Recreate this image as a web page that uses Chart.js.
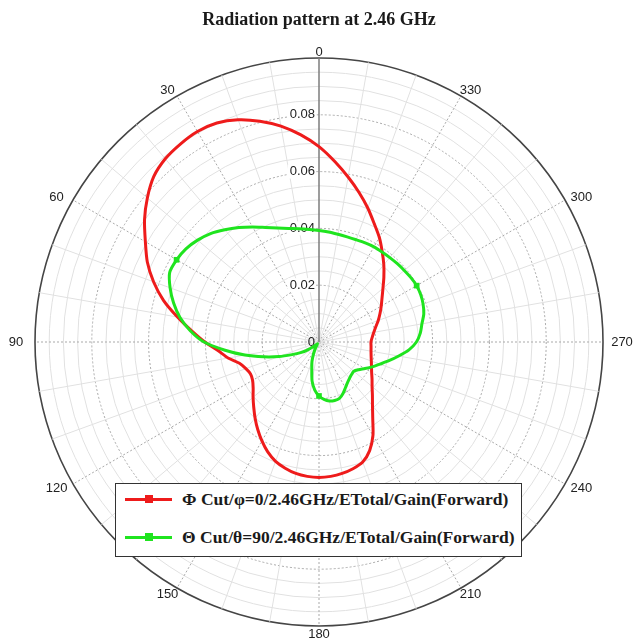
<!DOCTYPE html>
<html>
<head>
<meta charset="utf-8">
<script src="https://cdn.jsdelivr.net/npm/chart.js@4.4.1/dist/chart.umd.min.js"></script>
<style>
  html, body { margin: 0; padding: 0; background: #ffffff; }
  #wrap { position: relative; width: 639px; height: 639px; overflow: hidden; }
  #chart { position: absolute; left: 0; top: 0; }
  #legend {
    position: absolute; left: 115px; top: 483px; width: 405px; height: 72px;
    border: 1.5px solid #333; background: #ffffff;
    font-family: "Liberation Serif", "Times New Roman", serif; font-weight: bold;
    font-size: 17.5px; color: #1a1a1a;
  }
  .lrow { position: absolute; left: 0; width: 100%; height: 24px; }
  .lline { position: absolute; left: 9px; width: 47px; height: 3px; top: 10.5px; }
  .lmark { position: absolute; left: 28.5px; width: 8px; height: 8px; top: 8px; }
  .ltext { position: absolute; left: 66px; top: 0; line-height: 24px; white-space: nowrap; }
</style>
</head>
<body>
<div id="wrap">
  <canvas id="chart" width="639" height="639"></canvas>
  <div id="legend"></div>
</div>
<script>
// ---- data (angles in degrees, counter-clockwise from top) ----
const ANGLE_DEG = [0,5,10,15,20,25,30,35,40,45,50,55,60,65,70,75,80,85,90,95,100,105,110,115,
  120,125,130,135,140,145,150,155,160,165,170,175,180,185,190,195,200,205,210,215,220,225,230,235,
  240,245,250,255,260,265,270,275,280,285,290,295,300,305,310,315,320,325,330,335,340,345,350,355];

const PHI_CUT_GAIN = [0.0688,0.0732,0.0772,0.0805,0.0833,0.0851,0.0856,0.0851,0.0842,0.0823,0.0789,0.0750,
  0.0706,0.0667,0.0620,0.0567,0.0506,0.0450,0.0402,0.0356,0.0325,0.0290,0.0274,0.0266,
  0.0270,0.0283,0.0303,0.0325,0.0350,0.0376,0.0402,0.0427,0.0447,0.0460,0.0470,0.0475,
  0.0477,0.0475,0.0470,0.0462,0.0450,0.0422,0.0380,0.0330,0.0293,0.0266,0.0244,0.0228,
  0.0214,0.0204,0.0196,0.0190,0.0186,0.0184,0.0183,0.0188,0.0196,0.0207,0.0222,0.0237,
  0.0253,0.0271,0.0294,0.0323,0.0355,0.0388,0.0425,0.0460,0.0502,0.0545,0.0590,0.0638];

const THETA_CUT_GAIN = [0.0393,0.0398,0.0405,0.0414,0.0427,0.0445,0.0468,0.0492,0.0516,0.0540,0.0558,0.0572,
  0.0579,0.0580,0.0558,0.0530,0.0497,0.0455,0.0405,0.0332,0.0265,0.0202,0.0150,0.0105,
  0.0075,0.0048,0.0025,0.0012,0.0008,0.0012,0.0025,0.0045,0.0072,0.0098,0.0140,0.0170,
  0.0190,0.0203,0.0211,0.0213,0.0211,0.0200,0.0186,0.0175,0.0167,0.0162,0.0160,0.0170,
  0.0187,0.0207,0.0228,0.0255,0.0285,0.0318,0.0343,0.0358,0.0368,0.0382,0.0390,0.0395,
  0.0397,0.0395,0.0392,0.0390,0.0388,0.0387,0.0387,0.0385,0.0383,0.0383,0.0385,0.0389];

const THETA_MARKER_ANGLES = [60, 180, 300];
const ANGLE_LABELS = [0, 30, 60, 90, 120, 150, 180, 210, 240, 270, 300, 330];
const TICK_VALUES = [0, 0.02, 0.04, 0.06, 0.08];
const TICK_LABELS = ['0', '0.02', '0.04', '0.06', '0.08'];
const SERIES_NAMES = ['\u03A6 Cut/\u03C6=0/2.46GHz/ETotal/Gain(Forward)', '\u0398 Cut/\u03B8=90/2.46GHz/ETotal/Gain(Forward)'];
const TITLE = 'Radiation pattern at 2.46 GHz';

// ---- radar runs clockwise, so order categories to display counter-clockwise ----
const DISPLAY_ORDER = ANGLE_DEG.map(a => (360 - a) % 360);
const pick = (arr) => DISPLAY_ORDER.map(a => arr[ANGLE_DEG.indexOf(a)]);
const angleAt = (i) => DISPLAY_ORDER[i];

const RED = '#ee1b1b';
const GREEN = '#1fe41f';
const TARGET = { x: 319, y: 342, r: 284 };
const LABEL_FONT = '13px "Liberation Sans", Arial, sans-serif';

const axisTextPlugin = {
  id: 'axisTextPlugin',
  beforeDatasetsDraw(chart) {
    const s = chart.scales.r, ctx = chart.ctx;
    ctx.save();
    ctx.font = LABEL_FONT;
    // angle labels around the outer circle
    ctx.textAlign = 'center';
    ctx.textBaseline = 'middle';
    ctx.fillStyle = '#222222';
    DISPLAY_ORDER.forEach((a, i) => {
      if (!ANGLE_LABELS.includes(a)) return;
      const p = s.getPointPosition(i, 1);
      const ux = p.x - s.xCenter, uy = p.y - s.yCenter;
      const x = s.xCenter + ux * (s.drawingArea + 19);
      const y = s.yCenter + uy * (s.drawingArea + (uy > 0.01 ? 8 : 6));
      ctx.fillText(String(a), x, y);
    });
    // radial tick labels left of the 0 degree axis
    ctx.textAlign = 'right';
    TICK_VALUES.forEach((v, i) => {
      const y = s.yCenter - s.getDistanceFromCenterForValue(v);
      const xr = s.xCenter - 4;
      const w = ctx.measureText(TICK_LABELS[i]).width;
      ctx.fillStyle = '#ffffff';
      if (i > 0) ctx.fillRect(xr - w - 2, y - 7, w + 3, 14);
      ctx.fillStyle = '#222222';
      ctx.fillText(TICK_LABELS[i], xr, y);
    });
    ctx.restore();
  }
};

const pad = { top: 0, bottom: 12, left: 35, right: 36 };
const titlePad = { top: 10, bottom: 26.4 };

const chart = new Chart(document.getElementById('chart'), {
  type: 'radar',
  data: {
    labels: DISPLAY_ORDER,
    datasets: [
      {
        label: SERIES_NAMES[0], data: pick(PHI_CUT_GAIN), order: 1,
        borderColor: RED, backgroundColor: RED, borderWidth: 3, fill: false,
        pointRadius: 0, tension: 0.25
      },
      {
        label: SERIES_NAMES[1], data: pick(THETA_CUT_GAIN), order: 0,
        borderColor: GREEN, backgroundColor: GREEN, borderWidth: 3, fill: false,
        pointStyle: 'rect', pointBackgroundColor: GREEN, pointBorderWidth: 0,
        pointRadius: (c) => THETA_MARKER_ANGLES.includes(angleAt(c.dataIndex)) ? 4 : 0,
        tension: 0.25
      }
    ]
  },
  options: {
    responsive: false,
    animation: false,
    events: [],
    layout: { padding: Object.assign({}, pad) },
    plugins: {
      legend: { display: false },
      tooltip: { enabled: false },
      title: {
        display: true, text: TITLE, color: '#1a1a1a',
        font: { family: '"Liberation Serif", "Times New Roman", serif', size: 18, weight: 'bold' },
        padding: Object.assign({}, titlePad)
      }
    },
    scales: {
      r: {
        min: 0, max: 0.1,
        startAngle: 0,
        ticks: { display: false, stepSize: 0.005 },
        grid: {
          circular: true,
          color: (c) => c.index === 20 ? '#454545' : (c.index % 4 === 0 ? '#a9a9a9' : '#e1e1e1'),
          lineWidth: (c) => c.index === 20 ? 1.6 : 1
        },
        border: {
          dash: (c) => (c.index % 4 === 0 && c.index !== 20) ? [2, 2] : []
        },
        angleLines: {
          color: (c) => {
            const a = angleAt(c.index);
            if (a === 0) return '#7d7d7d';
            if (a % 30 === 0) return '#a9a9a9';
            if (a % 10 === 0) return '#e1e1e1';
            return 'rgba(0,0,0,0)';
          },
          lineWidth: (c) => angleAt(c.index) === 0 ? 1.5 : 1,
          borderDash: (c) => { const a = angleAt(c.index); return (a % 30 === 0 && a !== 0) ? [2, 2] : []; }
        },
        pointLabels: { display: false }
      }
    }
  },
  plugins: [axisTextPlugin]
});

// fine-tune the layout so the polar grid lands where the reference has it
for (let k = 0; k < 8; k++) {
  const s = chart.scales.r;
  const dx = TARGET.x - s.xCenter, dy = TARGET.y - s.yCenter, dr = TARGET.r - s.drawingArea;
  if (Math.abs(dx) < 0.5 && Math.abs(dy) < 0.5 && Math.abs(dr) < 0.5) break;
  pad.left += dx - dr; pad.right += -dx - dr;
  titlePad.bottom += dy - dr; pad.bottom += -dy - dr;
  chart.options.layout.padding = Object.assign({}, pad);
  chart.options.plugins.title.padding = Object.assign({}, titlePad);
  chart.update('none');
}

// legend built from the datasets
const legend = document.getElementById('legend');
chart.data.datasets.forEach((ds, i) => {
  const row = document.createElement('div');
  row.className = 'lrow';
  row.style.top = (i === 0 ? 3 : 41) + 'px';
  const line = document.createElement('div'); line.className = 'lline'; line.style.background = ds.borderColor;
  const mark = document.createElement('div'); mark.className = 'lmark'; mark.style.background = ds.borderColor;
  const txt = document.createElement('div'); txt.className = 'ltext'; txt.textContent = ds.label;
  row.appendChild(line); row.appendChild(mark); row.appendChild(txt);
  legend.appendChild(row);
});
</script>
</body>
</html>
